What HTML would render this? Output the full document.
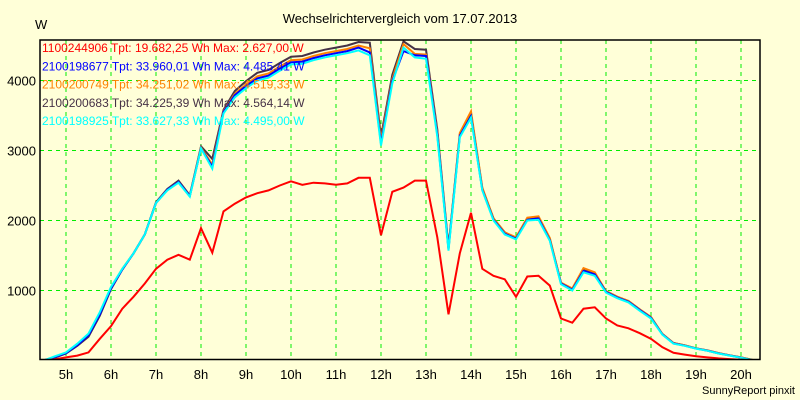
<!DOCTYPE html>
<html><head><meta charset="utf-8"><style>
html,body{margin:0;padding:0;background:#ffffd8;}
svg{display:block;font-family:"Liberation Sans",Arial,sans-serif;}
</style></head><body>
<svg id="chart" width="800" height="400" viewBox="0 0 800 400" xmlns="http://www.w3.org/2000/svg">
<rect x="0" y="0" width="800" height="400" fill="#ffffd8"/>
<text x="400" y="23" text-anchor="middle" font-size="13" fill="#000">Wechselrichtervergleich vom 17.07.2013</text>
<text x="35" y="29" font-size="13" fill="#000">W</text>
<text x="795" y="394" text-anchor="end" font-size="11" fill="#000">SunnyReport pinxit</text>
<defs><clipPath id="plotclip"><rect x="40" y="40" width="720" height="320"/></clipPath></defs>
<g id="grid"></g>
<g id="series" clip-path="url(#plotclip)"></g>
<rect x="40" y="40" width="720" height="319.5" fill="none" stroke="#000" stroke-width="1.5"/>
<g id="axes"></g>
<g id="legend"></g>
</svg>
<script>
const times = [4.5,4.75,5,5.25,5.5,5.75,6,6.25,6.5,6.75,7,7.25,7.5,7.75,8,8.25,8.5,8.75,9,9.25,9.5,9.75,10,10.25,10.5,10.75,11,11.25,11.5,11.75,12,12.25,12.5,12.75,13,13.25,13.5,13.75,14,14.25,14.5,14.75,15,15.25,15.5,15.75,16,16.25,16.5,16.75,17,17.25,17.5,17.75,18,18.25,18.5,18.75,19,19.25,19.5,19.75,20,20.25,20.5];
const xTickHours = [5,6,7,8,9,10,11,12,13,14,15,16,17,18,19,20];
const xTickLabels = ["5h","6h","7h","8h","9h","10h","11h","12h","13h","14h","15h","16h","17h","18h","19h","20h"];
const yTicks = [1000,2000,3000,4000];
const yTickLabels = ["1000","2000","3000","4000"];
const seriesDark = [0,40,100,210,340,640,1020,1300,1530,1800,2260,2450,2570,2360,3060,2880,3580,3850,3990,4110,4150,4250,4340,4350,4400,4440,4470,4500,4550,4540,3200,4080,4560,4450,4440,3300,1620,3230,3530,2460,2030,1830,1750,2030,2050,1740,1110,1020,1290,1240,990,910,850,730,620,380,250,215,175,145,105,75,45,8,0];
const seriesOrange = [0,50,110,230,370,670,1040,1310,1530,1800,2250,2440,2550,2350,3040,2800,3560,3810,3940,4060,4100,4200,4290,4300,4350,4390,4420,4450,4500,4460,3150,4020,4520,4380,4370,3260,1600,3250,3560,2470,2030,1830,1760,2040,2060,1750,1110,1030,1320,1260,990,910,850,730,620,380,250,215,175,145,105,75,45,8,0];
const seriesBlue = [0,50,105,220,360,660,1030,1300,1530,1800,2250,2440,2550,2350,3030,2770,3550,3790,3920,4030,4070,4170,4260,4270,4320,4360,4390,4420,4470,4400,3100,3990,4420,4360,4350,3230,1590,3210,3490,2440,2010,1810,1740,2010,2030,1720,1100,1010,1280,1230,980,900,840,720,610,375,245,212,172,142,102,72,42,6,0];
const seriesCyan = [0,60,115,240,385,690,1050,1310,1530,1800,2250,2430,2540,2340,3030,2740,3530,3760,3890,4000,4040,4140,4230,4240,4290,4330,4360,4390,4430,4360,3070,3960,4470,4330,4310,3200,1570,3190,3470,2430,2000,1800,1730,2000,2010,1710,1090,1000,1260,1210,970,890,830,710,600,370,240,210,170,140,100,70,40,5,0];
const seriesRed = [0,15,45,70,115,310,490,740,910,1100,1310,1440,1510,1440,1890,1540,2130,2240,2330,2390,2430,2500,2560,2510,2540,2530,2510,2530,2610,2610,1790,2410,2470,2570,2570,1760,660,1530,2110,1310,1210,1160,910,1200,1210,1070,600,540,740,760,600,500,460,390,310,190,110,85,60,45,30,20,10,0,0];
const legendLabels = ["1100244906 Tpt: 19.682,25 Wh Max: 2.627,00 W","2100198677 Tpt: 33.960,01 Wh Max: 4.485,41 W","2100200749 Tpt: 34.251,02 Wh Max: 4.519,33 W","2100200683 Tpt: 34.225,39 Wh Max: 4.564,14 W","2100198925 Tpt: 33.627,33 Wh Max: 4.495,00 W"];

const NS = "http://www.w3.org/2000/svg";
function xs(t){ return 66 + (t - 5) * 45; }
function ys(v){ return 360.5 - v * 0.07; }

const grid = document.getElementById('grid');
const axes = document.getElementById('axes');
xTickHours.forEach((h, i) => {
  const l = document.createElementNS(NS, 'line');
  
  
  l.setAttribute('x1', xs(h)); l.setAttribute('x2', xs(h));
  l.setAttribute('y1', 40); l.setAttribute('y2', 360);
  l.setAttribute('stroke', '#00ee00'); l.setAttribute('stroke-dasharray', '4,4');
  grid.appendChild(l);
  const t = document.createElementNS(NS, 'text');
  
  
  t.setAttribute('x', xs(h)); t.setAttribute('y', 379);
  t.setAttribute('text-anchor', 'middle'); t.setAttribute('font-size', '13');
  t.textContent = xTickLabels[i];
  axes.appendChild(t);
});
yTicks.forEach((v, i) => {
  const l = document.createElementNS(NS, 'line');
  
  
  l.setAttribute('x1', 40); l.setAttribute('x2', 760);
  l.setAttribute('y1', ys(v)); l.setAttribute('y2', ys(v));
  l.setAttribute('stroke', '#00ee00'); l.setAttribute('stroke-dasharray', '4,4');
  grid.appendChild(l);
  const t = document.createElementNS(NS, 'text');
  
  
  t.setAttribute('x', 36); t.setAttribute('y', ys(v) + 5);
  t.setAttribute('text-anchor', 'end'); t.setAttribute('font-size', '13');
  t.textContent = yTickLabels[i];
  axes.appendChild(t);
});

const seriesG = document.getElementById('series');
function drawLine(vals, color, name){
  const p = document.createElementNS(NS, 'polyline');
  
  
  p.setAttribute('points', vals.map((v, i) => xs(times[i]).toFixed(1) + ',' + ys(v).toFixed(1)).join(' '));
  p.setAttribute('fill', 'none'); p.setAttribute('stroke', color);
  p.setAttribute('stroke-width', '2'); p.setAttribute('stroke-linejoin', 'miter');
  seriesG.appendChild(p);
}
drawLine(seriesDark, '#463246', 'line-2100200683');
drawLine(seriesOrange, '#ff8000', 'line-2100200749');
drawLine(seriesBlue, '#0000ff', 'line-2100198677');
drawLine(seriesCyan, '#00ffff', 'line-2100198925');
drawLine(seriesRed, '#ff0000', 'line-1100244906');

const legend = document.getElementById('legend');
const legendColors = ['#ff0000', '#0000ff', '#ff8000', '#463246', '#00ffff'];
legendLabels.forEach((s, i) => {
  const t = document.createElementNS(NS, 'text');
  
  
  t.setAttribute('x', 42); t.setAttribute('y', 52 + i * 18.3);
  t.setAttribute('font-size', '12'); t.setAttribute('fill', legendColors[i]);
  t.textContent = s;
  legend.appendChild(t);
});
</script>
</body></html>
